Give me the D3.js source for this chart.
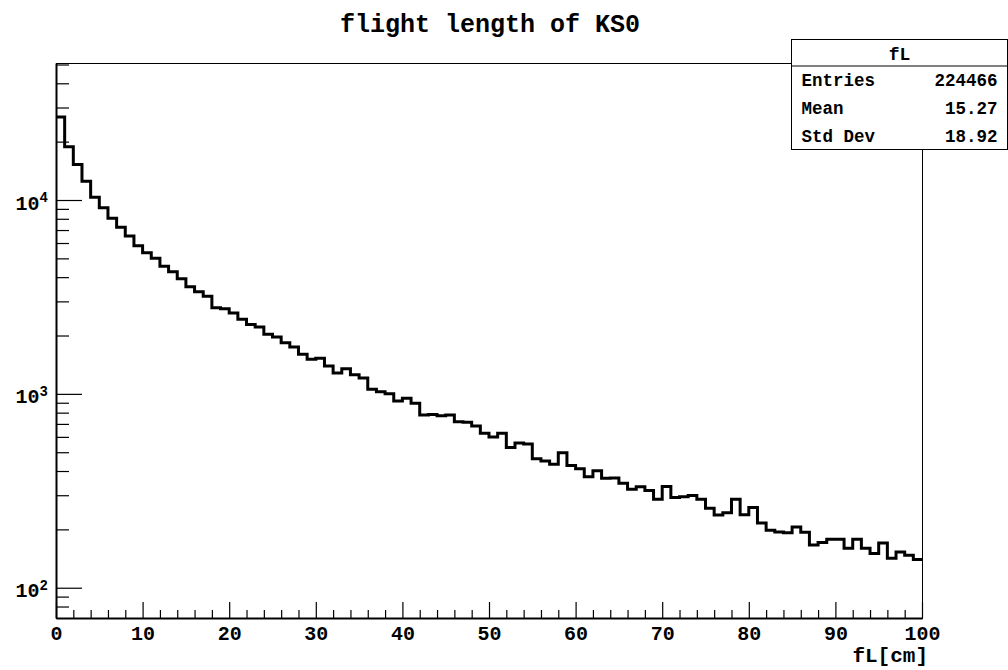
<!DOCTYPE html>
<html>
<head>
<meta charset="utf-8">
<script src="https://cdn.jsdelivr.net/npm/d3@7"></script>
<style>
  body { margin: 0; background: #fff; }
  svg text { font-family: "Liberation Mono", "DejaVu Sans Mono", monospace; font-weight: bold; fill: #000; }
</style>
</head>
<body>
<div id="chart"></div>
<script>
const title = 'flight length of KS0';
const xTitle = 'fL[cm]';
const histName = 'fL';
const statLabels = ['Entries', 'Mean', 'Std Dev'];
const statValues = ['224466', '15.27', '18.92'];

const xRange = [0, 100];
const yRange = [69.8, 50900];
const xTickValues = [0, 10, 20, 30, 40, 50, 60, 70, 80, 90, 100];
const yDecades = [100, 1000, 10000];

// bin contents, 100 bins of 1 cm
const counts = [
  26800, 18830, 15250, 12500, 10340, 9130, 8045, 7230, 6520, 5800,
  5350, 5005, 4550, 4270, 3920, 3570, 3365, 3190, 2783, 2750,
  2613, 2424, 2280, 2213, 2029, 1965, 1836, 1744, 1600, 1508,
  1526, 1392, 1281, 1348, 1256, 1207, 1056, 1026, 1002, 919,
  948, 894, 778, 783, 772, 778, 718, 713, 683, 626,
  599, 626, 529, 558, 551, 463, 450, 433, 497, 427,
  411, 374, 401, 367, 368, 346, 322, 332, 317, 286,
  333, 292, 295, 299, 286, 257, 237, 244, 286, 238,
  259, 216, 198, 194, 192, 206, 193, 166, 171, 178,
  178, 160, 178, 160, 150, 170, 142, 153, 147, 140
];

const margin = { top: 63, right: 86, bottom: 52, left: 56 };
const W = 1008, H = 670;
const width = W - margin.left - margin.right;
const height = H - margin.top - margin.bottom;

const $svg = d3.select('#chart').append('svg')
  .attr('width', W)
  .attr('height', H);

const $plot = $svg.append('g')
  .attr('transform', `translate(${margin.left}, ${margin.top})`);

const x = d3.scaleLinear().domain(xRange).range([0, width]);
const y = d3.scaleLog().domain(yRange).range([height, 0]);

// frame
$plot.append('rect')
  .attr('x', 0.5)
  .attr('y', 0.5)
  .attr('width', width)
  .attr('height', height)
  .attr('fill', 'none')
  .attr('stroke', '#000')
  .attr('stroke-width', 1);

// histogram outline
const binWidth = (xRange[1] - xRange[0]) / counts.length;
const bins = counts.map((c, i) => ({
  x0: xRange[0] + i * binWidth,
  x1: xRange[0] + (i + 1) * binWidth,
  value: c
}));

const line = d3.line()
  .x(d => x(d[0]))
  .y(d => y(d[1]));

$plot.append('path')
  .datum(bins.flatMap(b => [[b.x0, b.value], [b.x1, b.value]]))
  .attr('d', line)
  .attr('fill', 'none')
  .attr('stroke', '#000')
  .attr('stroke-width', 3)
  .attr('stroke-linejoin', 'miter');

// x axis
const xAxis = d3.axisBottom(x)
  .tickValues(xTickValues)
  .tickSize(-16)
  .tickSizeOuter(0)
  .tickPadding(8)
  .tickFormat(d3.format('d'));

const xMinor = d3.axisBottom(x)
  .tickValues(x.ticks(50).filter(v => v % 10 !== 0))
  .tickSize(-8)
  .tickSizeOuter(0)
  .tickFormat('');

$plot.append('g')
  .attr('class', 'axis x minor')
  .attr('transform', `translate(0, ${height})`)
  .call(xMinor)
  .call(g => g.select('.domain').remove());

$plot.append('g')
  .attr('class', 'axis x')
  .attr('transform', `translate(0, ${height})`)
  .call(xAxis)
  .call(g => g.select('.domain').attr('stroke-width', 2))
  .call(g => g.selectAll('.tick text')
    .attr('font-size', 20)
    .attr('font-family', null));

// y axis
const yAxis = d3.axisLeft(y)
  .tickValues(yDecades)
  .tickSize(-26)
  .tickSizeOuter(0)
  .tickPadding(8)
  .tickFormat('');

const yMinor = d3.axisLeft(y)
  .tickValues(y.ticks().filter(v => !yDecades.includes(v) && v > yRange[0] * 1.02))
  .tickSize(-13)
  .tickSizeOuter(0)
  .tickFormat('');

$plot.append('g')
  .attr('class', 'axis y minor')
  .call(yMinor)
  .call(g => g.select('.domain').remove());

$plot.append('g')
  .attr('class', 'axis y')
  .call(yAxis)
  .call(g => g.select('.domain').attr('stroke-width', 2))
  .call(g => g.selectAll('.tick text')
    .attr('font-family', null)
    .attr('font-size', 20)
    .attr('dy', '0.45em')
    .each(function(d) {
      const t = d3.select(this);
      t.append('tspan').text('10');
      t.append('tspan')
        .attr('font-size', 14)
        .attr('dy', '-0.55em')
        .text(Math.round(Math.log10(d)));
    }));

$plot.selectAll('.axis line').attr('stroke-width', 1.2);

// x title
$svg.append('text')
  .attr('x', margin.left + width + 6)
  .attr('y', 662)
  .attr('text-anchor', 'end')
  .attr('font-size', 21)
  .text(xTitle);

// title
$svg.append('text')
  .attr('x', 490)
  .attr('y', 32)
  .attr('text-anchor', 'middle')
  .attr('font-size', 25)
  .text(title);

// stats box
const box = { x: 791.5, y: 39.5, w: 216, h: 110, head: 26.5, row: 27.8 };
const $stats = $svg.append('g')
  .attr('transform', `translate(${box.x}, ${box.y})`);

$stats.append('rect')
  .attr('width', box.w)
  .attr('height', box.h)
  .attr('fill', '#fff')
  .attr('stroke', '#000')
  .attr('stroke-width', 1);

$stats.append('line')
  .attr('x1', 0)
  .attr('x2', box.w)
  .attr('y1', box.head)
  .attr('y2', box.head)
  .attr('stroke', '#000')
  .attr('stroke-width', 1);

$stats.append('text')
  .attr('x', box.w / 2)
  .attr('y', 20.5)
  .attr('text-anchor', 'middle')
  .attr('font-size', 18)
  .text(histName);

$stats.selectAll('.stat-label')
  .data(statLabels)
  .enter()
  .append('text')
  .attr('class', 'stat-label')
  .attr('x', 10)
  .attr('y', (d, i) => 46.5 + i * box.row)
  .attr('font-size', 17.5)
  .text(d => d);

$stats.selectAll('.stat-value')
  .data(statValues)
  .enter()
  .append('text')
  .attr('class', 'stat-value')
  .attr('x', box.w - 10)
  .attr('y', (d, i) => 46.5 + i * box.row)
  .attr('text-anchor', 'end')
  .attr('font-size', 17.5)
  .text(d => d);
</script>
</body>
</html>
